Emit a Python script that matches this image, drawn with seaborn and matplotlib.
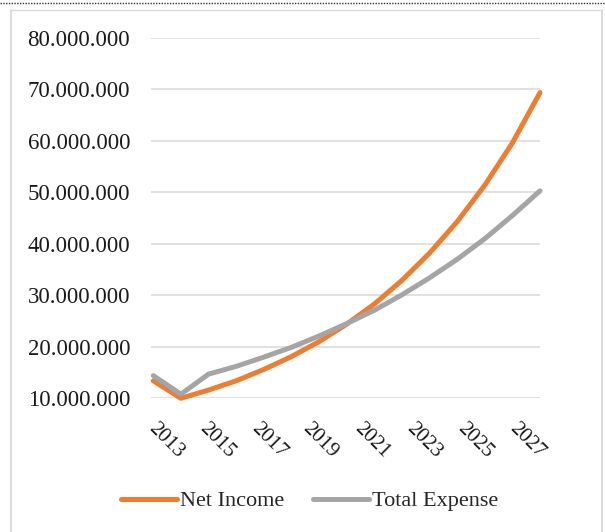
import numpy as np
import pandas as pd
import matplotlib
matplotlib.use('Agg')
import matplotlib.pyplot as plt
import seaborn as sns
from matplotlib.lines import Line2D
from matplotlib.ticker import FuncFormatter

# ── Data ─────────────────────────────────────────────────────
years        = list(range(2013, 2028))
net_income   = [13.4, 10.0, 11.6, 13.4, 15.6, 18.1, 21.0, 24.4, 28.3,
                32.9, 38.2, 44.3, 51.4, 59.6, 69.4]          # millions
total_expense = [14.4, 10.8, 14.7, 16.2, 18.0, 19.9, 22.1, 24.5, 27.1,
                 30.1, 33.4, 37.0, 41.0, 45.5, 50.3]         # millions
series_names = ['Net Income', 'Total Expense']
colors       = ['#ED7D31', '#A5A5A5']
year_labels  = [str(y) for y in years[::2]]

df = pd.DataFrame({
    'Year':  years * 2,
    'Value': [v * 1e6 for v in net_income + total_expense],
    'Series': [series_names[0]] * len(years) + [series_names[1]] * len(years),
})

sns.set_style('white')
plt.rcParams['font.family'] = ['Liberation Serif', 'DejaVu Serif']

W, H = 605, 532
ax_l, ax_r, ax_t, ax_b = 151, 540, 38, 398.3
fig = plt.figure(figsize=(W/100, H/100), dpi=100)
ax = fig.add_axes([ax_l/W, 1 - ax_b/H, (ax_r-ax_l)/W, (ax_b-ax_t)/H])

sns.lineplot(data=df, x='Year', y='Value', hue='Series', palette=colors,
             linewidth=3.6, ax=ax, legend=False, clip_on=False, zorder=3)
for ln in ax.lines:
    ln.set_solid_capstyle('round')
    ln.set_solid_joinstyle('round')

ax.set_xlim(years[0], years[-1])
ax.set_ylim(10e6, 80e6)
ax.set_yticks(np.arange(10e6, 80e6 + 1, 10e6))
ax.yaxis.set_major_formatter(FuncFormatter(lambda v, p: f'{v:,.0f}'.replace(',', '.')))

# Excel spreads the rotated labels a little tighter than the ticks
px_per_year = (ax_r - ax_l) / (years[-1] - years[0])
label_pos = [years[0] + (-2.3 + 51.9 * k) / px_per_year for k in range(len(year_labels))]
ax.set_xticks(label_pos)
ax.set_xticklabels(year_labels, rotation=-45, ha='left', va='center',
                   rotation_mode='anchor')
ax.tick_params(axis='x', length=0, pad=20, labelsize=15, colors='#1a1a1a')
ax.tick_params(axis='y', length=0, pad=15, labelsize=16.5, colors='#1a1a1a')
ax.set_xlabel(''); ax.set_ylabel('')
ax.grid(axis='y', color='#D9D9D9', linewidth=1.1)
ax.grid(axis='x', visible=False)
ax.set_axisbelow(True)
for s in ax.spines.values():
    s.set_visible(False)

# legend
handles = [Line2D([0], [0], color=c, linewidth=3.6, solid_capstyle='round') for c in colors]
fig.legend(handles, series_names, loc='center', bbox_to_anchor=(310/W, 1 - 501/H),
           ncol=2, frameon=False, fontsize=16, handlelength=2.5, handletextpad=0.15,
           columnspacing=1.3)

# chart frame + dotted page line
fig.add_artist(Line2D([0, 1], [1 - 2.5/H] * 2, color='#333333', linewidth=1,
                      linestyle=(0, (1, 1))))
fig.add_artist(Line2D([10.5/W, 10.5/W], [0, 1 - 9.5/H], color='#D9D9D9', linewidth=1.3))
fig.add_artist(Line2D([602/W, 602/W], [0, 1 - 9.5/H], color='#D9D9D9', linewidth=1.3))
fig.add_artist(Line2D([10.5/W, 602/W], [1 - 9.5/H] * 2, color='#D9D9D9', linewidth=1.0))

fig.savefig('out.png', dpi=100)
